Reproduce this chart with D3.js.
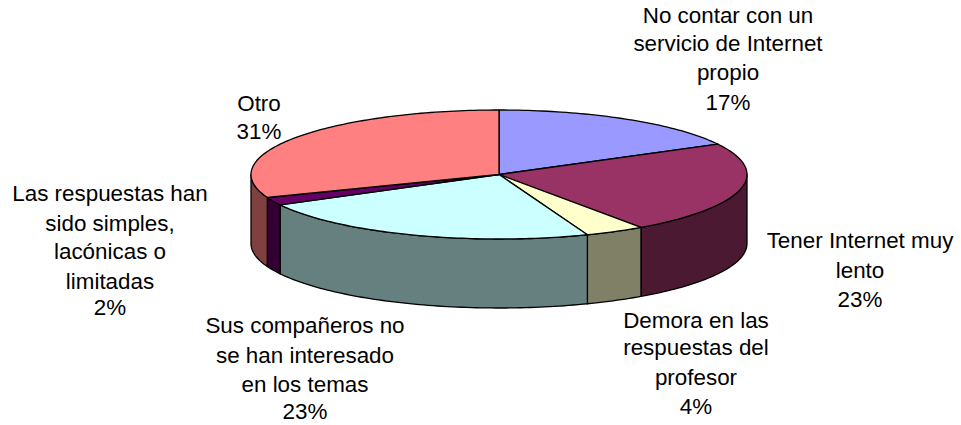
<!DOCTYPE html>
<html>
<head>
<meta charset="utf-8">
<script src="https://cdn.jsdelivr.net/npm/d3@7"></script>
<style>
html, body { margin: 0; padding: 0; background: #fff; }
svg { display: block; }
text { font-family: "Liberation Sans", Arial, sans-serif; font-size: 22.4px; fill: #000; text-anchor: middle; }
</style>
</head>
<body>
<svg width="961" height="425"></svg>
<script>
var categories = [
  "No contar con un servicio de Internet propio",
  "Tener Internet muy lento",
  "Demora en las respuestas del profesor",
  "Sus compañeros no se han interesado en los temas",
  "Las respuestas han sido simples, lacónicas o limitadas",
  "Otro"
];
// the labels show them rounded
var values = [17.2, 23.1, 3.9, 23, 2, 30.8];
var topColors = ["#9999ff", "#993366", "#ffffcc", "#ccffff", "#660066", "#ff8080"];
var sideColors = ["#4c4c80", "#4c1933", "#808066", "#668080", "#330033", "#804040"];

// wrapped label lines, the percentage is appended from values
var labelLines = [
  ["No contar con un", "servicio de Internet", "propio"],
  ["Tener Internet muy", "lento"],
  ["Demora en las", "respuestas del", "profesor"],
  ["Sus compañeros no", "se han interesado", "en los temas"],
  ["Las respuestas han", "sido simples,", "lacónicas o", "limitadas"],
  ["Otro"]
];
var labelX = [728, 860, 696, 305, 110, 259];
// baselines are not evenly spaced in the original
var labelY = [
  [23, 51, 80, 110],
  [248, 278, 307],
  [328, 355, 385, 414],
  [333, 363, 392, 419],
  [201, 231, 259, 289, 315],
  [111, 139]
];

var svg = d3.select("svg");

// pie is a flattened disc, unit circle mapped to the ellipse
var x = d3.scaleLinear().domain([-1, 1]).range([251, 747]),
    y = d3.scaleLinear().domain([1, -1]).range([110, 239]);
var depth = 69;

var pie = d3.pie().sort(null).value(function(d) { return d; })(values);

var line = d3.line()
  .x(function(d) { return d[0]; })
  .y(function(d) { return d[1]; });

function rim(a0, a1, dy) {
  var n = Math.max(2, Math.ceil((a1 - a0) / 0.02));
  return d3.range(n + 1).map(function(i) {
    var a = a0 + (a1 - a0) * i / n;
    return [x(Math.sin(a)), y(Math.cos(a)) + dy];
  });
}

// walls first, only the front half of the disc shows
svg.append("g").selectAll("path")
  .data(pie.filter(function(d) { return d.endAngle > Math.PI / 2 && d.startAngle < 3 * Math.PI / 2; }))
  .enter().append("path")
  .attr("d", function(d) {
    var a0 = Math.max(d.startAngle, Math.PI / 2),
        a1 = Math.min(d.endAngle, 3 * Math.PI / 2);
    return line(rim(a0, a1, 0).concat(rim(a0, a1, depth).reverse())) + "Z";
  })
  .attr("fill", function(d) { return sideColors[d.index]; })
  .attr("stroke", "#000")
  .attr("stroke-width", 1.3)
  .attr("stroke-linejoin", "round");

// top faces
svg.append("g").selectAll("path")
  .data(pie)
  .enter().append("path")
  .attr("d", function(d) {
    return line([[x(0), y(0)]].concat(rim(d.startAngle, d.endAngle, 0))) + "Z";
  })
  .attr("fill", function(d) { return topColors[d.index]; })
  .attr("stroke", "#000")
  .attr("stroke-width", 1.3)
  .attr("stroke-linejoin", "round");

// labels
var labels = svg.append("g").selectAll("text")
  .data(labelLines)
  .enter().append("text")
  .attr("aria-label", function(d, i) { return categories[i]; });

labels.selectAll("tspan")
  .data(function(d, i) {
    return d.concat(Math.round(values[i]) + "%").map(function(t, j) {
      return {text: t, x: labelX[i], y: labelY[i][j]};
    });
  })
  .enter().append("tspan")
  .attr("x", function(d) { return d.x; })
  .attr("y", function(d) { return d.y; })
  .text(function(d) { return d.text; });
</script>
</body>
</html>
